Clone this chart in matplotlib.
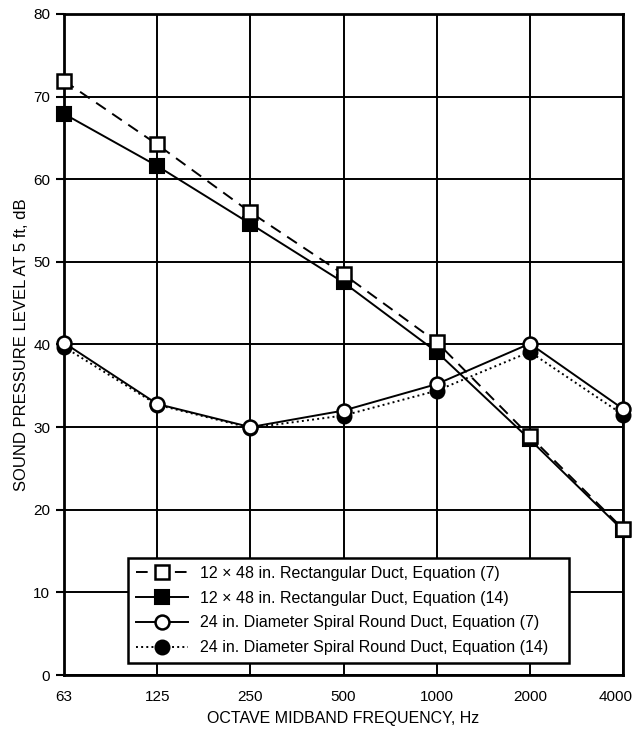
import matplotlib
matplotlib.use("Agg")
import matplotlib.pyplot as plt
import matplotlib.transforms as mtransforms
from matplotlib import font_manager

plt.rcParams['font.family'] = ['Liberation Sans', 'DejaVu Sans']

freq_labels = ["63", "125", "250", "500", "1000", "2000", "4000"]
rect_eq7 = [71.9, 64.2, 56.0, 48.5, 40.3, 28.9, 17.7]
rect_eq14 = [67.9, 61.6, 54.6, 47.5, 39.1, 28.5, 17.5]
round_eq7 = [40.2, 32.8, 30.0, 32.0, 35.2, 40.1, 32.2]
round_eq14 = [39.7, 32.7, 29.9, 31.4, 34.4, 39.1, 31.5]
labels = ["12 \u00d7 48 in. Rectangular Duct, Equation (7)",
          "12 \u00d7 48 in. Rectangular Duct, Equation (14)",
          "24 in. Diameter Spiral Round Duct, Equation (7)",
          "24 in. Diameter Spiral Round Duct, Equation (14)"]

x = list(range(len(freq_labels)))

fig = plt.figure(figsize=(6.37, 7.31), dpi=100)
ax = fig.add_axes([0.1005, 0.0766, 0.8775, 0.9044])

ax.grid(True, color='black', linewidth=1.4, zorder=0)
ax.set_axisbelow(True)

lw = 1.4
h2, = ax.plot(x, rect_eq14, '-', color='black', lw=lw, marker='s', ms=10,
              mfc='black', mec='black', mew=1.5, label=labels[1], zorder=3, clip_on=False)
h1, = ax.plot(x, rect_eq7, '--', color='black', lw=lw, dashes=(6, 4), marker='s', ms=10,
              mfc='white', mec='black', mew=1.8, label=labels[0], zorder=4, clip_on=False)
h4, = ax.plot(x, round_eq14, ':', color='black', lw=lw, marker='o', ms=10,
              mfc='black', mec='black', mew=1.5, label=labels[3], zorder=3, clip_on=False)
h3, = ax.plot(x, round_eq7, '-', color='black', lw=lw, marker='o', ms=10,
              mfc='white', mec='black', mew=1.8, label=labels[2], zorder=4, clip_on=False)

ax.set_xlim(0, 6)
ax.set_ylim(0, 80)
ax.set_xticks(x)
ax.set_xticklabels(freq_labels)
ax.set_yticks(range(0, 81, 10))
ax.tick_params(axis='x', labelsize=11, length=0, pad=11)
ax.tick_params(axis='y', labelsize=11, length=6, width=1.5, direction='out', pad=4)
for s in ax.spines.values():
    s.set_linewidth(2)

last = ax.get_xticklabels()[-1]
last.set_horizontalalignment('right')
last.set_transform(last.get_transform() + mtransforms.ScaledTranslation(0.10, 0, fig.dpi_scale_trans))

ax.set_xlabel("OCTAVE MIDBAND FREQUENCY, Hz", fontsize=11.5, labelpad=5)
names = {f.name for f in font_manager.fontManager.ttflist}
yfam = ['Liberation Sans Narrow', 'Liberation Sans'] if 'Liberation Sans Narrow' in names else ['Liberation Sans']
ax.set_ylabel("SOUND PRESSURE LEVEL AT 5 ft, dB", fontsize=13 if len(yfam) == 2 else 12,
              family=yfam, labelpad=3)

leg = ax.legend(handles=[h1, h2, h3, h4], loc='upper left',
                bbox_to_anchor=(0.1145, 0.018, 0.789, 0.159), mode='expand',
                fontsize=11.5, handlelength=3.3, handletextpad=0.75, borderaxespad=0,
                labelspacing=0.62, fancybox=False, framealpha=1, edgecolor='black',
                borderpad=0.48)
leg.get_frame().set_linewidth(1.8)
leg.set_zorder(10)

fig.savefig("out.png", dpi=100)
